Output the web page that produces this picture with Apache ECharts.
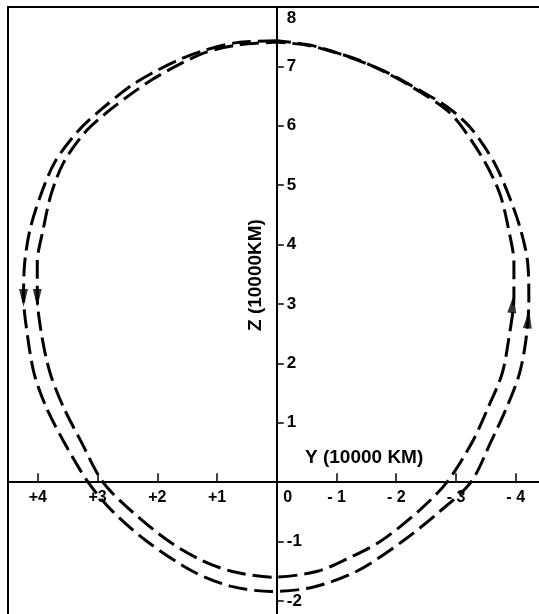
<!DOCTYPE html>
<html>
<head>
<meta charset="utf-8">
<script src="https://cdn.jsdelivr.net/npm/echarts@6/dist/echarts.min.js"></script>
<style>
html,body{margin:0;padding:0;background:#fff;}
#chart{width:539px;height:614px;}
</style>
</head>
<body>
<div id="chart"></div>
<script>
// Outer loop (Y, Z) in 10000 km
var outerY = [0.00, 0.66, 1.18, 1.64, 2.10, 2.46, 2.91, 3.31, 3.71, 3.95, 4.13, 4.22, 4.24, 4.17, 4.06, 3.86, 3.57, 3.16, 2.74, 2.17, 1.41, 0.78, 0.10, -0.60, -1.34, -2.10, -2.72, -3.25, -3.59, -3.85, -4.06, -4.17, -4.22, -4.20, -4.08, -3.88, -3.63, -3.25, -2.85, -2.35, -1.80, -1.20, -0.60, 0.00];
var outerZ = [7.43, 7.40, 7.28, 7.11, 6.88, 6.66, 6.30, 5.93, 5.40, 4.84, 4.26, 3.70, 3.13, 2.44, 1.82, 1.26, 0.69, 0.00, -0.50, -1.00, -1.50, -1.75, -1.84, -1.77, -1.50, -1.00, -0.50, 0.00, 0.69, 1.26, 1.82, 2.39, 3.05, 3.70, 4.26, 4.84, 5.40, 5.96, 6.32, 6.62, 6.92, 7.16, 7.35, 7.43];
// Inner loop
var innerY = [0.00, 0.66, 1.18, 1.64, 2.10, 2.46, 2.85, 3.22, 3.57, 3.78, 3.91, 4.01, 4.01, 3.93, 3.79, 3.57, 3.28, 2.91, 2.42, 1.80, 1.29, 0.76, 0.05, -0.68, -1.16, -1.73, -2.36, -2.85, -3.28, -3.54, -3.77, -3.88, -3.97, -3.97, -3.88, -3.74, -3.48, -3.10, -2.85, -2.40, -1.90, -1.39, -0.89, -0.49, 0.00];
var innerZ = [7.41, 7.36, 7.24, 7.03, 6.77, 6.52, 6.22, 5.88, 5.38, 4.84, 4.26, 3.70, 3.13, 2.44, 1.82, 1.26, 0.69, 0.00, -0.50, -1.00, -1.30, -1.50, -1.60, -1.50, -1.30, -1.00, -0.50, 0.00, 0.69, 1.26, 1.82, 2.39, 3.13, 3.70, 4.26, 4.84, 5.40, 5.98, 6.26, 6.57, 6.86, 7.10, 7.26, 7.36, 7.41];
// Direction arrows
var arrowDownY = [4.24, 4.01];
var arrowDownZ = [3.10, 3.10];
var arrowUpY = [-3.95, -4.21];
var arrowUpZ = [3.00, 2.74];
// Tick values / labels
var yTicks = [-4, -3, -2, -1, 0, 1, 2, 3, 4];
var yTickLabels = {'-4': '- 4', '-3': '- 3', '-2': '- 2', '-1': '- 1', '0': '0', '1': '+1', '2': '+2', '3': '+3', '4': '+4'};
var zTicks = [-2, -1, 1, 2, 3, 4, 5, 6, 7];
var zLabelValues = [-2, -1, 1, 2, 3, 4, 5, 6, 7, 8];
var yAxisTitle = 'Y (10000 KM)';
var zAxisTitle = 'Z (10000KM)';

function pairs(a, b) { return a.map(function (v, i) { return [v, b[i]]; }); }

var FONT = '"Liberation Sans", Arial, Helvetica, sans-serif';
var chart = echarts.init(document.getElementById('chart'), null, {renderer: 'canvas'});
var lineBase = {type: 'line', showSymbol: false, smooth: 0.3, silent: true, z: 3,
  xAxisIndex: 0, yAxisIndex: 0};

var GRID = {left: 8, right: 0, top: 7, bottom: 0};
var Y_MIN = -4.39, Y_MAX = 4.5, Z_MIN = -2.22, Z_MAX = 8;
// offsets that move the main axes onto the zero lines
var W = 539 - GRID.left - GRID.right, H = 614 - GRID.top - GRID.bottom;
var zeroX = GRID.left + (Y_MAX - 0) / (Y_MAX - Y_MIN) * W;
var zeroYfromBottom = (0 - Z_MIN) / (Z_MAX - Z_MIN) * H;

chart.setOption({
  animation: false,
  backgroundColor: '#ffffff',
  grid: {left: GRID.left, right: GRID.right, top: GRID.top, bottom: GRID.bottom,
    containLabel: false, outerBoundsMode: 'none'},
  xAxis: [{
    type: 'value', inverse: true, min: Y_MIN, max: Y_MAX, position: 'bottom',
    offset: -zeroYfromBottom,
    axisLine: {show: true, onZero: false, lineStyle: {color: '#000', width: 2}},
    axisTick: {show: true, inside: true, length: 9, customValues: [-4, -3, -2, -1, 1, 2, 3, 4], lineStyle: {color: '#000', width: 1.5}},
    axisLabel: {
      show: true, margin: 7, customValues: yTicks, hideOverlap: false,
      fontFamily: FONT, fontWeight: 'bold', fontSize: 16, color: '#000',
      formatter: function (v) {
        var t = yTickLabels[String(Math.round(v))];
        return v === 0 ? '{z|' + t + '}' : t;
      },
      rich: {z: {padding: [0, 0, 0, 22], fontFamily: FONT, fontWeight: 'bold', fontSize: 16, color: '#000'}}
    },
    splitLine: {show: false}
  }, {
    type: 'value', position: 'top', inverse: true, min: Y_MIN, max: Y_MAX,
    axisLine: {show: true, onZero: false, lineStyle: {color: '#000', width: 2}},
    axisTick: {show: false}, axisLabel: {show: false}, splitLine: {show: false}
  }],
  yAxis: [{
    type: 'value', min: Z_MIN, max: Z_MAX, position: 'left',
    offset: -(zeroX - GRID.left),
    axisLine: {show: true, onZero: false, lineStyle: {color: '#000', width: 2}},
    axisTick: {show: true, inside: true, length: 7, customValues: zTicks, lineStyle: {color: '#000', width: 1.5}},
    axisLabel: {
      show: true, inside: true, margin: 10, customValues: zLabelValues, hideOverlap: false,
      fontFamily: FONT, fontWeight: 'bold', fontSize: 17, color: '#000',
      formatter: function (v) {
        var r = Math.round(v);
        if (r === 8) return '{t|8}';
        return String(r);
      },
      rich: {t: {padding: [22, 0, 0, 0], fontFamily: FONT, fontWeight: 'bold', fontSize: 17, color: '#000'}}
    },
    splitLine: {show: false}
  }, {
    type: 'value', position: 'left', min: Z_MIN, max: Z_MAX,
    axisLine: {show: true, onZero: false, lineStyle: {color: '#000', width: 2}},
    axisTick: {show: false}, axisLabel: {show: false}, splitLine: {show: false}
  }],
  graphic: [{
    type: 'text', left: 305, top: 448,
    style: {text: yAxisTitle, fontFamily: FONT, fontWeight: 'bold', fontSize: 19, fill: '#000'}
  }, {
    type: 'text', x: 246, y: 331, rotation: Math.PI / 2,
    style: {text: zAxisTitle, fontFamily: FONT, fontWeight: 'bold', fontSize: 19, fill: '#000'}
  }],
  series: [
    Object.assign({}, lineBase, {name: 'outer', data: pairs(outerY, outerZ),
      lineStyle: {color: '#000', width: 3, type: [19, 7], cap: 'butt'}}),
    Object.assign({}, lineBase, {name: 'inner', data: pairs(innerY, innerZ),
      lineStyle: {color: '#000', width: 3, type: [19, 7], cap: 'butt', dashOffset: 8}}),
    {type: 'scatter', data: pairs(arrowDownY, arrowDownZ), symbol: 'triangle', symbolSize: [9, 18], symbolRotate: 180,
      itemStyle: {color: '#000'}, z: 4, silent: true},
    {type: 'scatter', data: pairs(arrowUpY, arrowUpZ), symbol: 'triangle', symbolSize: [9, 18], symbolRotate: -6,
      itemStyle: {color: '#000'}, z: 4, silent: true}
  ]
});
</script>
</body>
</html>
